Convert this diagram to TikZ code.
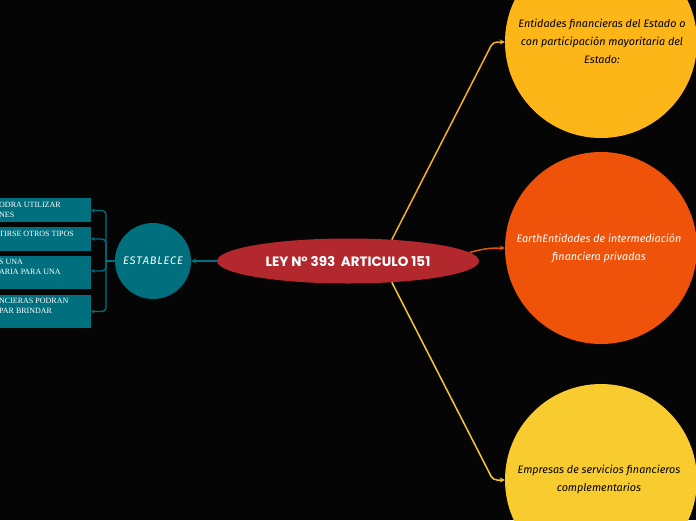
\documentclass[tikz,border=0pt]{standalone}
\usepackage{fontspec}
\setmainfont{Liberation Serif}
\newfontfamily\hand{Fira Sans}
\newfontfamily\titlefont{Poppins}
\usetikzlibrary{shapes.geometric,arrows.meta}
\definecolor{bg}{HTML}{050505}
\definecolor{redc}{HTML}{B3282D}
\definecolor{teal}{HTML}{00707F}
\definecolor{yelA}{HTML}{FDB618}
\definecolor{orgB}{HTML}{EF5209}
\definecolor{yelC}{HTML}{F8CB2F}
\definecolor{lineA}{HTML}{F5B11A}
\definecolor{lineB}{HTML}{E8510C}
\definecolor{lineC}{HTML}{F6C730}
\tikzset{
  bigcirc/.style={circle, minimum size=192pt, inner sep=0pt},
  bigtxt/.style={font=\hand\itshape\fontsize{10.8}{18}\selectfont, align=center},
  boxnode/.style={rectangle, fill=teal, minimum width=101pt, inner sep=0pt},
  boxtxt/.style={font=\fontsize{8}{10}\selectfont, text=white, align=left, inner sep=0pt, anchor=north west},
  tealline/.style={draw=teal, line width=1.3pt, rounded corners=4pt},
  conn/.style={line width=1.5pt, rounded corners=4pt, -{Stealth[length=5pt,width=5pt]}}
}
\begin{document}
\begin{tikzpicture}[x=1pt,y=-1pt]
\useasboundingbox (0,0) rectangle (696,520);
\clip (0,0) rectangle (696,520);
\fill[bg] (0,0) rectangle (696,520);

% right circles
\node[bigcirc, fill=yelA] (c1) at (601,42) {};
\node[bigtxt, text=black] (t1) at (602,41) {Entidades financieras del Estado o\\con participación mayoritaria del\\Estado:};
\node[bigcirc, fill=orgB] (c2) at (601,248) {};
\node[bigtxt, text=white] (t2) at (599,248) {EarthEntidades de intermediación\\financiera privadas};
\node[bigcirc, fill=yelC] (c3) at (601,480) {};
\node[bigtxt, text=black] (t3) at (599,479) {Empresas de servicios financieros\\complementarios};

% central ellipse
\node[ellipse, fill=redc, minimum width=262pt, minimum height=45pt, inner sep=0pt,
      font=\titlefont\bfseries\fontsize{13.5}{15}\selectfont, text=white] (main) at (348,261) {LEY N° 393\ \ ARTICULO 151};

% ESTABLECE circle
\node[circle, fill=teal, minimum size=76pt, inner sep=0pt, text=white,
      font=\hand\itshape\fontsize{11}{12}\selectfont] (est) at (153,261) {E\kern0.8pt S\kern0.8pt T\kern0.8pt A\kern0.8pt B\kern0.8pt L\kern0.8pt E\kern0.8pt C\kern0.8pt E};

% left boxes
\node[boxnode, minimum height=24pt] (b1) at (40.5,210) {};
\node[boxnode, minimum height=24pt] (b2) at (40.5,239) {};
\node[boxnode, minimum height=33pt] (b3) at (40.5,272.5) {};
\node[boxnode, minimum height=33pt] (b4) at (40.5,311.5) {};
\node[boxtxt] (l1) at (-1,202) {ODRA UTILIZAR\\NES};
\node[boxtxt] (l2) at (-1,231) {TIRSE OTROS TIPOS};
\node[boxtxt] (l3) at (-1,259) {S UNA\\ARIA PARA UNA};
\node[boxtxt] (l4) at (-1,298) {NCIERAS PODRAN\\PAR BRINDAR};

% connectors main -> right
\coordinate (k1) at (493,42);
\coordinate (k3) at (493,480);
\draw[conn, draw=lineA, color=lineA] (main.26) -- (k1) -- (c1.west);
\draw[conn, draw=lineB, color=lineB] (main.4) .. controls +(14,-4) and +(-14,0) .. (c2.west);
\draw[conn, draw=lineC, color=lineC] (main.-26) -- (k3) -- (c3.west);

% main -> ESTABLECE
\draw[conn, draw=teal, color=teal] (main.west) -- (est.east);

% bracket
\coordinate (j) at (106,261);
\draw[tealline] (est.west) -- (j);
\draw[tealline, -{Stealth[length=3.5pt,width=4pt]}] (j) |- (b1.east |- 0,210.5);
\draw[tealline, -{Stealth[length=3.5pt,width=4pt]}] (j) |- (b2.east |- 0,239);
\draw[tealline, -{Stealth[length=3.5pt,width=4pt]}] (j) |- (b3.east |- 0,271);
\draw[tealline, -{Stealth[length=3.5pt,width=4pt]}] (j) |- (b4.east |- 0,311.5);
\end{tikzpicture}
\end{document}
